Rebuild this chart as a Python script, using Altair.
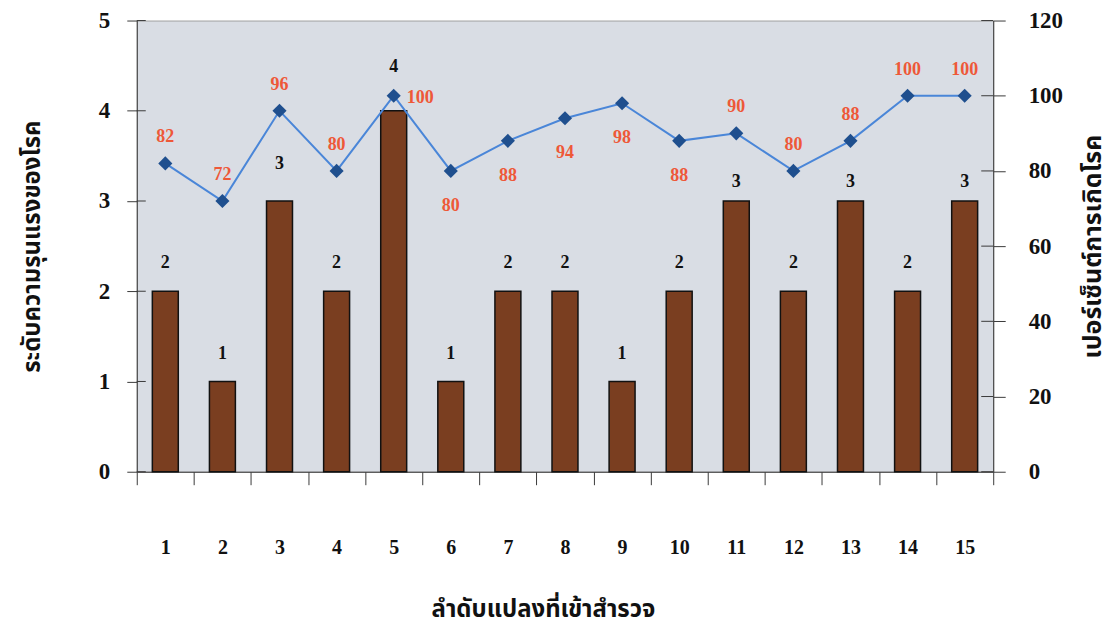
import altair as alt
import pandas as pd

# ---------------- data ----------------
plots = list(range(1, 16))
severity = [2, 1, 3, 2, 4, 1, 2, 2, 1, 2, 3, 2, 3, 2, 3]
incidence = [82, 72, 96, 80, 100, 80, 88, 94, 98, 88, 90, 80, 88, 100, 100]
left_ticks = [0, 1, 2, 3, 4, 5]
right_ticks = [0, 20, 40, 60, 80, 100, 120]

x_title = "ลำดับแปลงที่เข้าสำรวจ"
y_left_title = "ระดับความรุนแรงของโรค"
y_right_title = "เปอร์เซ็นต์การเกิดโรค"

df = pd.DataFrame({"plot": plots, "severity": severity, "incidence": incidence})
lt = pd.DataFrame({"v": left_ticks})
rt = pd.DataFrame({"v": right_ticks})

# ---------------- style ----------------
W, H = 858, 452
NUM_FONT = "Liberation Serif"
THAI_FONT = "Noto Sans Thai, Noto Serif Thai, Loma, Garuda, Noto Sans, sans-serif"
BAR_FILL = "#7a3e20"
LINE_COL = "#4a86d8"
MARK_COL = "#1f4f8e"
RED = "#ee5838"
AX_COL = "#3a3a3a"

x_axis = alt.Axis(
    title=x_title,
    labelAngle=0,
    tickBand="extent",
    tickSize=13,
    tickColor=AX_COL,
    domainColor=AX_COL,
    labelPadding=53,
    labelFont=NUM_FONT,
    labelFontWeight="bold",
    labelFontSize=20,
    labelColor="#111",
    titleFont=THAI_FONT,
    titleFontSize=24,
    titleFontWeight="bold",
    titleColor="#111",
    titlePadding=40,
    titleX=W / 2 - 22,
)


def xe():
    return alt.X("plot:O", sort=plots, scale=alt.Scale(paddingInner=0, paddingOuter=0), axis=x_axis)


left_axis = alt.Axis(
    title=y_left_title,
    values=left_ticks,
    orient="left",
    grid=False,
    tickSize=10,
    tickColor=AX_COL,
    domainColor=AX_COL,
    labelPadding=17,
    labelFont=NUM_FONT,
    labelFontWeight="bold",
    labelFontSize=23,
    labelColor="#111",
    titleFont=THAI_FONT,
    titleFontSize=24,
    titleFontWeight="bold",
    titleColor="#111",
    titlePadding=54,
)

right_axis = alt.Axis(
    title=y_right_title,
    values=right_ticks,
    orient="right",
    grid=False,
    tickSize=12,
    tickColor=AX_COL,
    domainColor=AX_COL,
    labelPadding=23,
    labelFont=NUM_FONT,
    labelFontWeight="bold",
    labelFontSize=23,
    labelColor="#111",
    titleFont=THAI_FONT,
    titleFontSize=25,
    titleFontWeight="bold",
    titleColor="#111",
    titleAngle=270,
    titlePadding=43,
)

y_left_scale = alt.Scale(domain=[0, 5], nice=False)
y_right_scale = alt.Scale(domain=[0, 120], nice=False)


def yl(field):
    return alt.Y(field, scale=y_left_scale, axis=left_axis)


def yr(field):
    return alt.Y(field, scale=y_right_scale, axis=right_axis)


bars = alt.Chart(df).mark_bar(
    size=26, color=BAR_FILL, stroke="#111", strokeWidth=1.5
).encode(x=xe(), y=yl("severity:Q"))

left_inner_ticks = alt.Chart(lt).mark_rule(color=AX_COL, strokeWidth=1).encode(
    x=alt.value(0), x2=alt.value(9), y=yl("v:Q")
)


def bar_text(idx, dy):
    return alt.Chart(df).transform_filter(
        alt.FieldOneOfPredicate(field="plot", oneOf=idx)
    ).mark_text(
        dy=dy, font=NUM_FONT, fontWeight="bold", fontSize=18, color="#111", baseline="middle"
    ).encode(x=xe(), y=yl("severity:Q"), text="severity:Q")


left = alt.layer(
    bars,
    left_inner_ticks,
    bar_text([1, 2, 4, 6, 7, 8, 9, 10, 12, 14], -28),
    bar_text([3], -37),
    bar_text([5], -44),
    bar_text([11, 13, 15], -19),
)

line = alt.Chart(df).mark_line(color=LINE_COL, strokeWidth=2).encode(
    x=xe(), y=yr("incidence:Q")
)

points = alt.Chart(df).mark_point(
    shape="diamond", filled=True, size=200, color=MARK_COL, opacity=1
).encode(x=xe(), y=yr("incidence:Q"))

right_inner_ticks = alt.Chart(rt).mark_rule(color=AX_COL, strokeWidth=1).encode(
    x=alt.value(W - 12), x2=alt.value(W), y=yr("v:Q")
)


def line_text(idx, dx, dy, align):
    return alt.Chart(df).transform_filter(
        alt.FieldOneOfPredicate(field="plot", oneOf=idx)
    ).mark_text(
        dx=dx, dy=dy, align=align, font=NUM_FONT, fontWeight="bold", fontSize=18,
        color=RED, baseline="middle"
    ).encode(x=xe(), y=yr("incidence:Q"), text="incidence:Q")


right = alt.layer(
    line,
    points,
    right_inner_ticks,
    line_text([1, 2, 3, 4, 11, 12, 13, 14, 15], 0, -26, "center"),
    line_text([6, 7, 8, 9, 10], 0, 35, "center"),
    line_text([5], 13, 2, "left"),
)

chart = alt.layer(left, right).resolve_scale(y="independent").properties(
    width=W,
    height=H,
    padding={"left": 12, "top": 1, "right": 5, "bottom": 5},
    background="white",
).configure_view(
    fill="#d9dde4", stroke="#a0a0a0", strokeWidth=1
)

chart.save("out.html", embed_options={"renderer": "svg", "actions": False})
